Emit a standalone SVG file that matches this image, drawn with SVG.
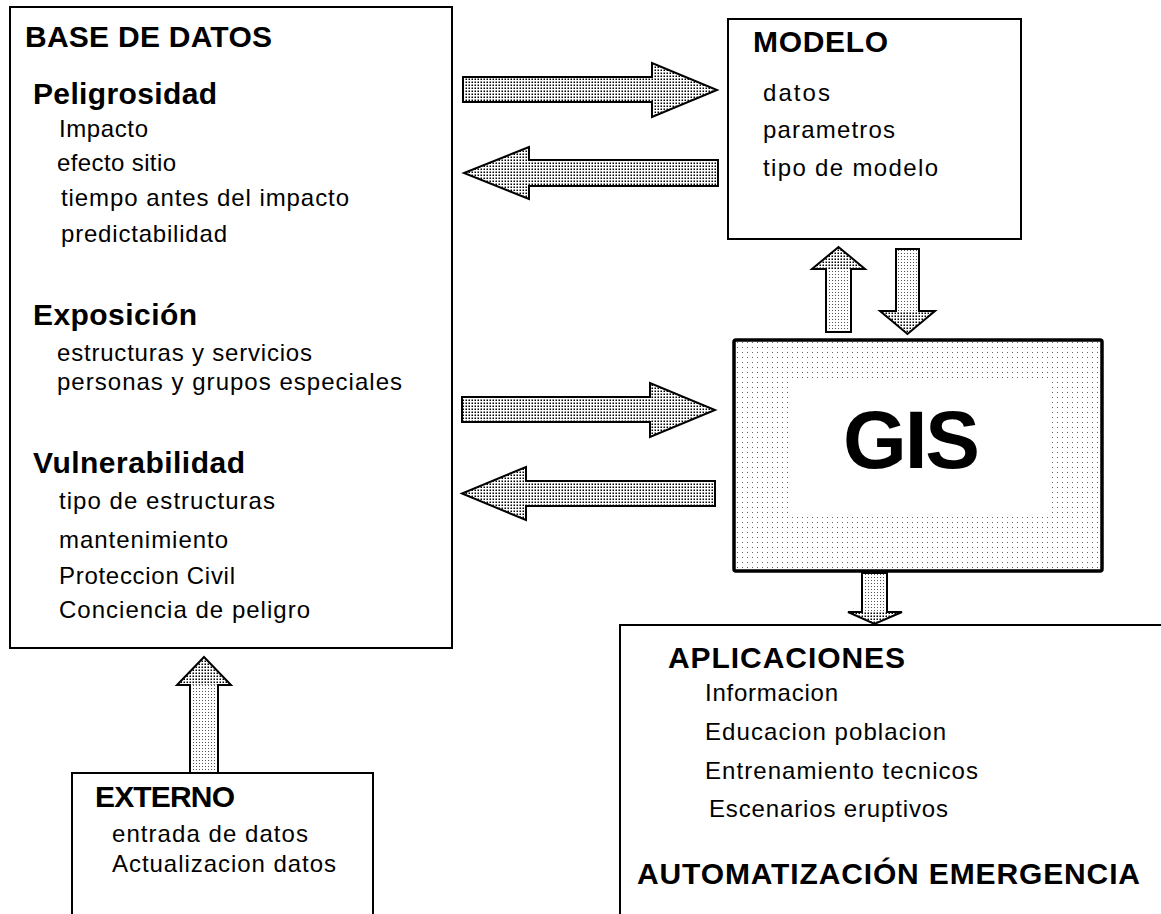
<svg xmlns="http://www.w3.org/2000/svg" width="1161" height="914" viewBox="0 0 1161 914">
  <defs>
    <!-- stipple fills -->
    <pattern id="dense" width="3" height="3" patternUnits="userSpaceOnUse">
      <rect width="3" height="3" fill="#fff"/>
      <rect x="0.5" y="0.5" width="1.5" height="1.5" fill="#000"/>
    </pattern>
    <pattern id="light" width="3" height="3" patternUnits="userSpaceOnUse">
      <rect width="3" height="3" fill="#fff"/>
      <rect x="1" y="1" width="1" height="1" fill="#555"/>
    </pattern>
    <pattern id="sparse" width="5" height="5" patternUnits="userSpaceOnUse">
      <rect width="5" height="5" fill="#fff"/>
      <rect x="2" y="2" width="1" height="1" fill="#666"/>
    </pattern>
  </defs>
  <style>
    .box { fill: #fff; stroke: #000; stroke-width: 2; }
    .h { font-family: "Liberation Sans", Arial, sans-serif; font-weight: bold; font-size: 30px; fill: #000; }
    .t { font-family: "Liberation Sans", Arial, sans-serif; font-size: 24px; fill: #000; }
    .arrow { fill: url(#dense); stroke: #000; stroke-width: 2; stroke-linejoin: miter; }
    .shaft { fill: url(#light); stroke: none; }
    .head { fill: url(#dense); stroke: none; }
    .outline { fill: none; stroke: #000; stroke-width: 2; }
  </style>

  <rect width="1161" height="914" fill="#fff"/>

  <g id="base-datos">
    <rect class="box" x="10" y="7" width="442" height="641"/>
    <text class="h" x="25" y="47" textLength="247">BASE DE DATOS</text>
    <text class="h" x="33" y="104" textLength="184">Peligrosidad</text>
    <text class="t" x="59" y="137" textLength="89">Impacto</text>
    <text class="t" x="57" y="171" textLength="119">efecto sitio</text>
    <text class="t" x="61" y="206" textLength="288">tiempo antes del impacto</text>
    <text class="t" x="61" y="242" textLength="166">predictabilidad</text>
    <text class="h" x="33" y="325" textLength="164">Exposición</text>
    <text class="t" x="57" y="361" textLength="255">estructuras y servicios</text>
    <text class="t" x="57" y="390" textLength="345">personas y grupos especiales</text>
    <text class="h" x="33" y="473" textLength="212">Vulnerabilidad</text>
    <text class="t" x="59" y="509" textLength="216">tipo de estructuras</text>
    <text class="t" x="59" y="548" textLength="169">mantenimiento</text>
    <text class="t" x="59" y="584" textLength="176">Proteccion Civil</text>
    <text class="t" x="59" y="618" textLength="251">Conciencia de peligro</text>
  </g>

  <g id="modelo">
    <rect class="box" x="728" y="19" width="293" height="220"/>
    <text class="h" x="753" y="52" textLength="135">MODELO</text>
    <text class="t" x="763" y="101" textLength="67">datos</text>
    <text class="t" x="763" y="138" textLength="132">parametros</text>
    <text class="t" x="763" y="176" textLength="175">tipo de modelo</text>
  </g>

  <g id="gis">
    <rect x="734" y="340" width="368" height="231" rx="2" fill="url(#sparse)" stroke="#000" stroke-width="3.5"/>
    <rect x="790" y="378" width="258" height="137" fill="#fff"/>
    <text x="843" y="468" textLength="137" font-family="'Liberation Sans', Arial, sans-serif" font-weight="bold" font-size="82">GIS</text>
  </g>

  <g id="aplicaciones">
    <rect class="box" x="620" y="625" width="560" height="310"/>
    <text class="h" x="668" y="668" textLength="237">APLICACIONES</text>
    <text class="t" x="705" y="701" textLength="133">Informacion</text>
    <text class="t" x="705" y="740" textLength="241">Educacion poblacion</text>
    <text class="t" x="705" y="779" textLength="273">Entrenamiento tecnicos</text>
    <text class="t" x="709" y="817" textLength="239">Escenarios eruptivos</text>
    <text class="h" x="637" y="884" textLength="503">AUTOMATIZACIÓN EMERGENCIA</text>
  </g>

  <g id="externo">
    <rect class="box" x="72" y="773" width="301" height="160"/>
    <text class="h" x="95" y="807" textLength="140">EXTERNO</text>
    <text class="t" x="112" y="842" textLength="196">entrada de datos</text>
    <text class="t" x="112" y="872" textLength="224">Actualizacion datos</text>
  </g>

  <g id="connectors">
    <!-- horizontal block arrows -->
    <polygon class="arrow" points="463,77 652,77 652,63 717,90 652,117 652,102 463,102"/>
    <polygon class="arrow" points="718,160 529,160 529,147 464,173 529,199 529,186 718,186"/>
    <polygon class="arrow" points="462,397 650,397 650,383 715,410 650,437 650,422 462,422"/>
    <polygon class="arrow" points="715,481 526,481 526,467 462,493.5 526,520 526,506 715,506"/>

    <!-- GIS to MODELO (up) -->
    <rect class="shaft" x="826" y="269" width="25" height="63"/>
    <polygon class="head" points="812,269 838.5,247 865,269"/>
    <polygon class="outline" points="826,332 826,269 812,269 838.5,247 865,269 851,269 851,332"/>

    <!-- MODELO to GIS (down) -->
    <rect class="shaft" x="896" y="249" width="23" height="62"/>
    <polygon class="head" points="880,311 935,311 907.5,334"/>
    <polygon class="outline" points="896,249 919,249 919,311 935,311 907.5,334 880,311 896,311"/>

    <!-- GIS to APLICACIONES (down) -->
    <rect class="shaft" x="862" y="573" width="25" height="39"/>
    <polygon class="head" points="848,612 902,612 874.5,624"/>
    <polygon class="outline" points="862,573 887,573 887,612 902,612 874.5,624 848,612 862,612"/>

    <!-- EXTERNO to BASE DE DATOS (up) -->
    <rect class="shaft" x="190" y="685" width="28" height="88"/>
    <polygon class="head" points="177,685 204,657 231,685"/>
    <polygon class="outline" points="190,773 190,685 177,685 204,657 231,685 218,685 218,773"/>
  </g>
</svg>
